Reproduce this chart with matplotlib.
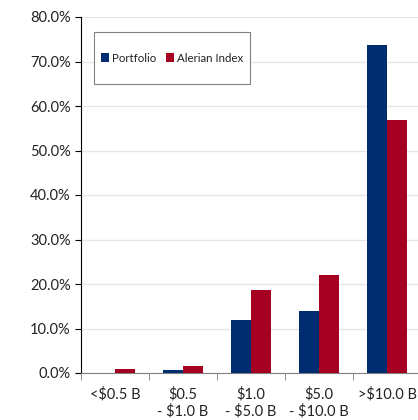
import numpy as np
import matplotlib
matplotlib.use("Agg")
import matplotlib.pyplot as plt
from matplotlib.patches import Rectangle
from matplotlib.ticker import FuncFormatter, FixedLocator

categories = ["<\\$0.5 B", "\\$0.5\n- \\$1.0 B", "\\$1.0\n- \\$5.0 B", "\\$5.0\n- \\$10.0 B", ">\\$10.0 B"]
portfolio = [0.0, 0.6, 11.8, 13.9, 73.7]
alerian = [0.9, 1.5, 18.6, 22.1, 56.9]

plt.rcParams['font.family'] = ['Lato', 'DejaVu Sans']

fig = plt.figure(figsize=(4.18, 4.2), dpi=100)
# axes right edge runs slightly past the figure, as in the reference
ax = fig.add_axes([81 / 418, (420 - 373) / 420, 340 / 418, 356 / 420])

x = np.arange(len(categories))
w = 0.29
ax.bar(x - w / 2, portfolio, w, color="#002D72", label="Portfolio", zorder=3)
ax.bar(x + w / 2, alerian, w, color="#A50021", label="Alerian Index", zorder=3)

ax.set_xlim(-0.5, len(categories) - 0.5)
ax.set_ylim(0, 80)
ax.set_yticks(np.arange(0, 81, 10))
ax.yaxis.set_major_formatter(FuncFormatter(lambda v, p: f"{v:.1f}%"))
ax.yaxis.grid(True, color="#e6e6e6", linewidth=1, zorder=0)

ax.set_xticks(x)
ax.set_xticklabels(categories, fontsize=10.5, linespacing=1.2, va="top", color="#222222")
ax.xaxis.set_minor_locator(FixedLocator(np.arange(-0.5, len(categories), 1)))
ax.tick_params(axis="x", which="major", length=0, pad=10)
ax.tick_params(axis="x", which="minor", length=5, color="#808080")
ax.tick_params(axis="y", length=4, labelsize=10.5, labelcolor="#222222", color="black")

for s in ["top", "right"]:
    ax.spines[s].set_visible(False)
ax.spines["left"].set_color("black")
ax.spines["bottom"].set_color("#808080")

# legend box (drawn separately so it can be taller than its contents)
bx0, bx1, by0, by1 = 13 / 340, 169 / 340, 1 - 67 / 356, 1 - 15 / 356
ax.add_patch(Rectangle((bx0, by0), bx1 - bx0, by1 - by0, transform=ax.transAxes,
                       facecolor="white", edgecolor="#808080", linewidth=0.8, zorder=4))
leg = ax.legend(loc="center", bbox_to_anchor=((bx0 + bx1) / 2, (by0 + by1) / 2), ncol=2,
                fontsize=8.3, frameon=False,
                handlelength=0.7, handleheight=0.7, handletextpad=0.25, columnspacing=0.9,
                borderpad=0, borderaxespad=0)
leg.set_zorder(5)
for t in leg.get_texts():
    t.set_color("#222222")

fig.savefig("out.png", dpi=100)
